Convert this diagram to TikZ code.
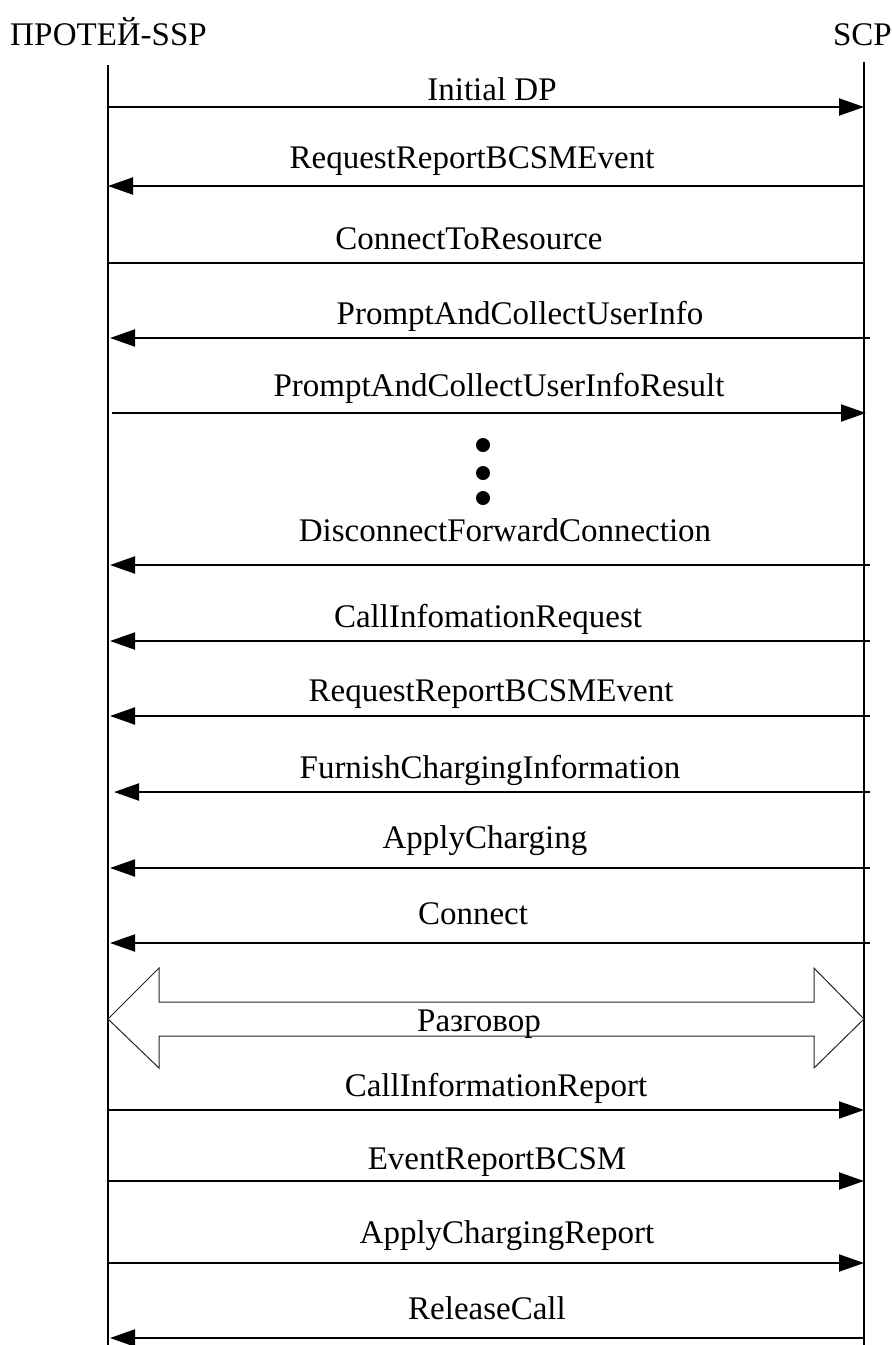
\documentclass[tikz,border=0pt]{standalone}
\usepackage{fontspec}
\setmainfont{Liberation Serif}
\usetikzlibrary{arrows.meta}
\begin{document}
\begin{tikzpicture}[x=1pt,y=-1pt,
  lifeline/.style={line width=1.6pt},
  msg/.style={line width=2pt},
  tipR/.style={msg,-{Triangle[length=25pt,width=17pt]}},
  tipL/.style={msg,{Triangle[length=25pt,width=17pt]}-},
  lbl/.style={anchor=base,inner sep=0pt,font=\fontsize{33}{40}\selectfont},
  head/.style={anchor=base,inner sep=0pt,font=\fontsize{33}{40}\selectfont},
  talk/.style={line width=1pt,draw=black!85},
  dot/.style={fill=black}]
\useasboundingbox (0,0) rectangle (892,1345);
\fill[white] (0,0) rectangle (892,1345);

% participants
\node[head,anchor=base west] (ssp) at (10,45) {ПРОТЕЙ-SSP};
\node[head,anchor=base east] (scp) at (892,45) {SCP};

% lifelines
\coordinate (sspTop) at (108,65);
\coordinate (sspBot) at (108,1345);
\coordinate (scpTop) at (864,62);
\coordinate (scpBot) at (864,1345);
\draw[lifeline] (sspTop) -- (sspBot);
\draw[lifeline] (scpTop) -- (scpBot);

% message end points
\coordinate (a1) at (108,107);  \coordinate (b1) at (864,107);
\coordinate (a2) at (108,186);  \coordinate (b2) at (864,186);
\coordinate (a3) at (108,263);  \coordinate (b3) at (864,263);
\coordinate (a4) at (110,338);  \coordinate (b4) at (870,338);
\coordinate (a5) at (112,413);  \coordinate (b5) at (866,413);
\coordinate (a6) at (110,565);  \coordinate (b6) at (870,565);
\coordinate (a7) at (110,641);  \coordinate (b7) at (870,641);
\coordinate (a8) at (110,716);  \coordinate (b8) at (870,716);
\coordinate (a9) at (114,792);  \coordinate (b9) at (870,792);
\coordinate (a10) at (110,868); \coordinate (b10) at (870,868);
\coordinate (a11) at (110,943); \coordinate (b11) at (870,943);
\coordinate (a12) at (108,1110); \coordinate (b12) at (864,1110);
\coordinate (a13) at (108,1181); \coordinate (b13) at (864,1181);
\coordinate (a14) at (108,1263); \coordinate (b14) at (864,1263);
\coordinate (a15) at (110,1338); \coordinate (b15) at (864,1338);

% messages
\draw[tipR] (a1) -- (b1);
\node[lbl] (m1) at (492,100) {Initial DP};
\draw[tipL] (a2) -- (b2);
\node[lbl] (m2) at (472,168) {RequestReportBCSMEvent};
\draw[msg] (a3) -- (b3);
\node[lbl] (m3) at (469,249) {ConnectToResource};
\draw[tipL] (a4) -- (b4);
\node[lbl] (m4) at (520,324) {PromptAndCollectUserInfo};
\draw[tipR] (a5) -- (b5);
\node[lbl] (m5) at (499,396) {PromptAndCollectUserInfoResult};

% continuation dots
\fill[dot] (483,445) circle (7);
\fill[dot] (483,473) circle (7);
\fill[dot] (483,498) circle (7);

\draw[tipL] (a6) -- (b6);
\node[lbl] (m6) at (505,541) {DisconnectForwardConnection};
\draw[tipL] (a7) -- (b7);
\node[lbl] (m7) at (488,627) {CallInfomationRequest};
\draw[tipL] (a8) -- (b8);
\node[lbl] (m8) at (491,701) {RequestReportBCSMEvent};
\draw[tipL] (a9) -- (b9);
\node[lbl] (m9) at (490,778) {FurnishChargingInformation};
\draw[tipL] (a10) -- (b10);
\node[lbl] (m10) at (485,848) {ApplyCharging};
\draw[tipL] (a11) -- (b11);
\node[lbl] (m11) at (473,924) {Connect};

% conversation phase: hollow double arrow
\draw[talk] (108,1019) -- (159,968) -- (159,1002) -- (814,1002) -- (814,968)
  -- (864,1019) -- (814,1068) -- (814,1036) -- (159,1036) -- (159,1068) -- cycle;
\node[lbl] (talk) at (479,1031) {Разговор};

\draw[tipR] (a12) -- (b12);
\node[lbl] (m12) at (496,1096) {CallInformationReport};
\draw[tipR] (a13) -- (b13);
\node[lbl] (m13) at (497,1169) {EventReportBCSM};
\draw[tipR] (a14) -- (b14);
\node[lbl] (m14) at (507,1243) {ApplyChargingReport};
\draw[tipL] (a15) -- (b15);
\node[lbl] (m15) at (487,1319) {ReleaseCall};
\end{tikzpicture}
\end{document}
